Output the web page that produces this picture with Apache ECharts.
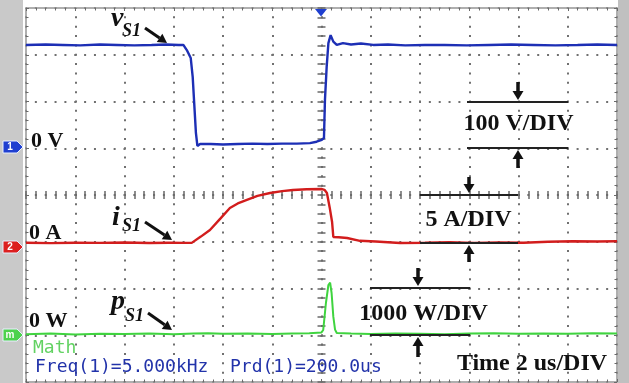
<!DOCTYPE html>
<html><head><meta charset="utf-8">
<script src="https://cdn.jsdelivr.net/npm/echarts@6/dist/echarts.min.js"></script>
<style>html,body{margin:0;padding:0;background:#fff}#c{width:629px;height:383px}</style>
</head><body><div id="c"></div>
<script>
// Time axis in microseconds (2 us/DIV, 12 divisions, trigger at 0)
const timeRange = [-12, 12];
const timeStep = 2;
// Channel 1: switch voltage v_S1 [t(us), V]  (100 V/DIV)
const vS1 = [[-12,221],[-11.2,222],[-10.5,221],[-9.8,220],[-9.0,222],[-8.3,221],[-7.6,220],[-6.9,221],[-6.3,222],[-5.8,221],
  [-5.61,221],[-5.47,210],[-5.31,193],[-5.23,152],[-5.17,97],[-5.10,33],[-5.04,5],[-4.93,9],[-4.5,9],[-4.0,8],
  [-3.4,9],[-2.8,10],[-2.2,9],[-1.6,10],[-1.0,10],[-0.47,11],[-0.2,14],[0.01,18],[0.10,22],[0.14,103],
  [0.21,174],[0.28,225],[0.37,242],[0.48,228],[0.62,221],[0.87,225],[1.2,222],[1.6,224],[2.1,221],[2.7,222],
  [3.4,220],[4.2,221],[5.0,221],[5.9,220],[6.8,221],[7.7,222],[8.6,221],[9.5,220],[10.4,221],[11.2,222],[12,221]];
// Channel 2: switch current i_S1 [t(us), A]  (5 A/DIV)
const iS1 = [[-12,-0.1],[-11,-0.15],[-10,-0.1],[-9,-0.12],[-8,-0.08],[-7,-0.13],[-6.2,-0.1],[-5.6,-0.12],[-5.27,-0.12],[-4.9,0.55],
  [-4.53,1.26],[-4.1,2.5],[-3.72,3.61],[-3.4,4.1],[-3.03,4.47],[-2.6,4.9],[-2.09,5.21],[-1.6,5.42],[-1.16,5.53],[-0.6,5.62],
  [0.02,5.64],[0.12,5.55],[0.22,5.21],[0.33,3.7],[0.43,2.11],[0.48,0.51],[0.7,0.48],[1.04,0.4],[1.56,0.1],[2.2,0.02],
  [3.19,-0.13],[4.2,-0.1],[5.2,-0.05],[6.2,-0.12],[7.2,-0.08],[8.2,-0.1],[9.2,0.0],[10.2,0.05],[11.2,0.02],[12,0.05]];
// Math: switch power p_S1 [t(us), W]  (1000 W/DIV)
const pS1 = [[-12,20],[-11,35],[-10,15],[-9,30],[-8,25],[-7,40],[-6,20],[-5.2,35],[-4.6,45],[-4,30],
  [-3,40],[-2,25],[-1.2,40],[-0.5,45],[0,60],[0.07,112],[0.18,690],[0.28,1075],[0.35,1124],[0.41,904],
  [0.48,397],[0.55,120],[0.62,48],[1.2,35],[2,25],[3,40],[4,30],[5,20],[6,35],[7,45],
  [8,30],[9,40],[10,30],[11,45],[12,35]];
// Vertical scales (8 divisions each)
const voltScale = {min:-500, max:300, step:100};
const ampScale = {min:-15, max:25, step:5};
const wattScale = {min:-1000, max:7000, step:1000};
const divScale = {min:0, max:8, step:1};

const chart = echarts.init(document.getElementById('c'));
const dotC = '#707070', tickC = '#6a6a6a', borderC = '#959595';

function xAx(extra){
  return Object.assign({type:'value', min:timeRange[0], max:timeRange[1], interval:timeStep,
    axisLabel:{show:false}, splitLine:{show:false}, axisLine:{show:false,onZero:false},
    axisTick:{show:false}, minorTick:{show:false}}, extra);
}
function yAx(sc, extra){
  return Object.assign({type:'value', min:sc.min, max:sc.max, interval:sc.step,
    axisLabel:{show:false}, splitLine:{show:false}, axisLine:{show:false,onZero:false},
    axisTick:{show:false}, minorTick:{show:false}}, extra);
}
const borderLine = {show:true,onZero:false,lineStyle:{color:borderC,width:1.5}};
const bTick = {show:true,inside:true,length:3,lineStyle:{color:tickC,width:1}};
const bMinor = {show:true,splitNumber:5,length:2.5,lineStyle:{color:tickC,width:1}};
const cTick = {show:true,inside:true,length:4,lineStyle:{color:tickC,width:1.5}};
const cMinor = {show:true,splitNumber:5,length:4,lineStyle:{color:tickC,width:1.5}};

const option = {
  animation:false,
  backgroundColor:'#ffffff',
  grid:{left:26,right:12,top:8,bottom:1,containLabel:false},
  xAxis:[
    xAx({position:'bottom', axisLine:borderLine, axisTick:bTick, minorTick:bMinor,
      splitLine:{show:true,lineStyle:{color:dotC,width:2,type:[2,7.35],dashOffset:1}}}),
    xAx({position:'top', axisLine:borderLine, axisTick:bTick, minorTick:bMinor}),
    xAx({position:'top', offset:-187, axisTick:cTick, minorTick:cMinor}),
    xAx({position:'bottom', offset:-187, axisTick:cTick, minorTick:cMinor})
  ],
  yAxis:[
    yAx(voltScale,{position:'left', axisLine:borderLine, axisTick:bTick, minorTick:bMinor,
      splitLine:{show:true,lineStyle:{color:dotC,width:2,type:[2,7.85],dashOffset:1}}}),
    yAx(ampScale,{show:false}),
    yAx(wattScale,{show:false}),
    yAx(divScale,{position:'right', axisLine:borderLine, axisTick:bTick, minorTick:bMinor}),
    yAx(divScale,{position:'left', offset:-295.5, axisTick:cTick, minorTick:cMinor}),
    yAx(divScale,{position:'right', offset:-295.5, axisTick:cTick, minorTick:cMinor})
  ],
  series:[
    {type:'line', name:'vS1', xAxisIndex:0, yAxisIndex:0, data:vS1, showSymbol:false, z:5,
      lineStyle:{color:'#1d2fb5',width:2.4}},
    {type:'line', name:'iS1', xAxisIndex:0, yAxisIndex:1, data:iS1, showSymbol:false, z:5,
      lineStyle:{color:'#d21d1d',width:2.4}},
    {type:'line', name:'pS1', xAxisIndex:0, yAxisIndex:2, data:pS1, showSymbol:false, z:5,
      lineStyle:{color:'#3fd43f',width:2}}
  ]
};
chart.setOption(option);

// ---- decorations (oscilloscope annotations) ----
const serif = '"Liberation Serif", "Times New Roman", serif';
const mono = '"DejaVu Sans Mono", monospace';
const g = [];
g.push({type:'rect', z:0, shape:{x:0,y:0,width:23,height:383}, style:{fill:'#c9c9c9'}});
g.push({type:'rect', z:0, shape:{x:618,y:0,width:11,height:383}, style:{fill:'#c0c0c0'}});

function marker(y, color, label){
  g.push({type:'polygon', z:20, shape:{points:[[3,y-6],[17,y-6],[23,y],[17,y+6],[3,y+6]]},
    style:{fill:color, stroke:'#e8f0ff', lineWidth:1}});
  g.push({type:'text', z:21, x:10, y:y, style:{text:label, fill:'#fff', font:'bold 10px Arial, sans-serif', align:'center', verticalAlign:'middle'}});
}
marker(147,'#1f3fd0','1');
marker(247,'#dc2020','2');
marker(335,'#4dd24d','m');
// trigger marker
g.push({type:'polygon', z:20, shape:{points:[[315,9],[327,9],[321,16.5]]}, style:{fill:'#1f3fd0'}});

function txt(x,y,s,font,fill,align){
  g.push({type:'text', z:30, x:x, y:y, style:{text:s, font:font, fill:fill||'#111', align:align||'left', verticalAlign:'middle'}});
}
function diagArrow(x1,y1,x2,y2){
  const dx=x2-x1, dy=y2-y1, L=Math.sqrt(dx*dx+dy*dy), ux=dx/L, uy=dy/L;
  const hl=9, hw=5;
  const bx=x2-ux*hl, by=y2-uy*hl;
  g.push({type:'line', z:30, shape:{x1:x1,y1:y1,x2:bx,y2:by}, style:{stroke:'#111',lineWidth:3}});
  g.push({type:'polygon', z:30, shape:{points:[[x2,y2],[bx-uy*hw,by+ux*hw],[bx+uy*hw,by-ux*hw]]}, style:{fill:'#111'}});
}
function vArrow(x,yFrom,yTip){
  const dir = yTip>yFrom?1:-1, hl=9, hw=5.5;
  const by=yTip-dir*hl;
  g.push({type:'line', z:30, shape:{x1:x,y1:yFrom,x2:x,y2:by}, style:{stroke:'#111',lineWidth:3.5}});
  g.push({type:'polygon', z:30, shape:{points:[[x,yTip],[x-hw,by],[x+hw,by]]}, style:{fill:'#111'}});
}
function hLine(x1,x2,y){
  g.push({type:'line', z:29, shape:{x1:x1,y1:y,x2:x2,y2:y}, style:{stroke:'#222',lineWidth:2}});
}
// signal labels
txt(111,19,'v','bold italic 28px '+serif);
txt(122,31,'S1','bold italic 18px '+serif);
diagArrow(145,28,167,43);
txt(112,218,'i','bold italic 28px '+serif);
txt(122,226,'S1','bold italic 18px '+serif);
diagArrow(145,222,172,240);
txt(111,302,'p','bold italic 28px '+serif);
txt(125,316,'S1','bold italic 18px '+serif);
diagArrow(148,313,172,330);
// zero level labels
txt(31,141.5,'0 V','bold 22px '+serif);
txt(29,233.5,'0 A','bold 22px '+serif);
txt(29,321.5,'0 W','bold 22px '+serif);
// scale indicators
hLine(467,568,102); hLine(467,568,148);
vArrow(518,82,100); vArrow(518,168,150);
txt(518.5,124,'100 V/DIV','bold 24px '+serif,'#111','center');
hLine(420,518,195); hLine(420,518,243);
vArrow(469,177,193); vArrow(469,262,245);
txt(468.5,219.5,'5 A/DIV','bold 24px '+serif,'#111','center');
hLine(370,470,288); hLine(370,470,335);
vArrow(418,268,286); vArrow(418,357,337);
txt(423.5,314,'1000 W/DIV','bold 24px '+serif,'#111','center');
txt(532,363.5,'Time 2 us/DIV','bold 24px '+serif,'#111','center');
// scope readouts
txt(33,348.5,'Math','18px '+mono,'#62d262');
txt(35,367.5,'Freq(1)=5.000kHz','18px '+mono,'#2233aa');
txt(230,367.5,'Prd(1)=200.0us','18px '+mono,'#2233aa');

chart.setOption({graphic:{elements:g}});
</script>
</body></html>
